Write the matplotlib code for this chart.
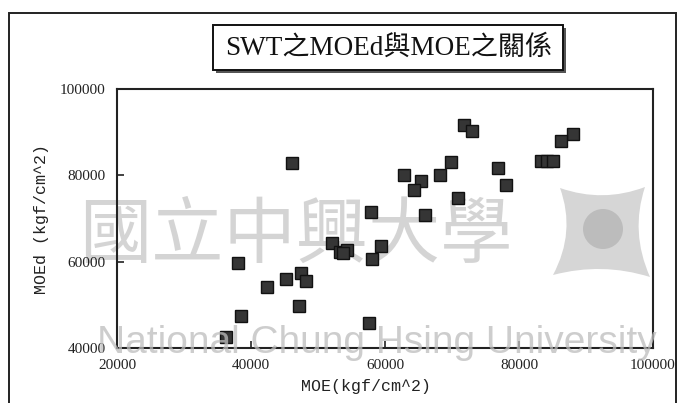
# -*- coding: utf-8 -*-
import matplotlib
matplotlib.use('Agg')
from matplotlib import pyplot as plt
from matplotlib.patches import Rectangle, Ellipse, PathPatch
from matplotlib.path import Path

# datos (MOE, MOEd) en kgf/cm^2
moe = [46100, 57900, 52100, 53300, 54300, 53700, 59400, 58100, 38100,
       45200, 42400, 47500, 48200, 47200, 38500, 57600, 36300, 71800,
       73000, 69900, 68200, 62800, 65400, 64300, 76900, 78100, 70900,
       66000, 88100, 86300, 83300, 84200, 85100]
moed = [82800, 71400, 64400, 62300, 62800, 62100, 63700, 60700, 59800,
        56000, 54200, 57400, 55600, 49800, 47400, 45800, 42600, 91600,
        90200, 83000, 80000, 80000, 78600, 76500, 81600, 77700, 74700,
        70700, 89500, 87900, 83300, 83300, 83300]

x_ticks = [20000, 40000, 60000, 80000, 100000]
y_ticks = [40000, 60000, 80000, 100000]

titulo = 'SWT之MOEd與MOE之關係'
x_label = 'MOE(kgf/cm^2)'
y_label = 'MOEd (kgf/cm^2)'
marca_cn = '國立中興大學'
marca_en = 'National Chung Hsing University'

W, H = 678, 403
serif = ['Liberation Serif', 'Noto Sans CJK TC']

fig = plt.figure(figsize=(W / 100, H / 100), dpi=100)


def fx(px):
    return px / W


def fy(py):
    return 1 - py / H


# marco exterior
fig.patches.append(Rectangle((fx(9), -0.1), fx(676) - fx(9), fy(13) + 0.1,
                             transform=fig.transFigure, fill=False,
                             edgecolor='#222222', linewidth=1.4))

# cuadro del titulo con sombra
bx0, by0, bx1, by1 = 213, 25, 563, 70
fig.patches.append(Rectangle((fx(bx0 + 3), fy(by1 + 3)), fx(bx1) - fx(bx0), fy(by0) - fy(by1),
                             transform=fig.transFigure, facecolor='#555555',
                             edgecolor='none', hatch='....'))
fig.patches.append(Rectangle((fx(bx0), fy(by1)), fx(bx1) - fx(bx0), fy(by0) - fy(by1),
                             transform=fig.transFigure, facecolor='white',
                             edgecolor='#111111', linewidth=1.4))
fig.text(fx(389), fy(48), titulo, ha='center', va='center', fontsize=19.5,
         family=serif, color='#111111')

ax = fig.add_axes([fx(117), fy(348), fx(653) - fx(117), fy(89) - fy(348)])
ax.set_facecolor('none')
ax.plot(moe, moed, linestyle='none', marker='s', markersize=8.5,
        markerfacecolor='#353535', markeredgecolor='#111111',
        markeredgewidth=1.0, zorder=3)

ax.set_xlim(20000, 100000)
ax.set_ylim(40000, 100000)
ax.set_xticks(x_ticks)
ax.set_yticks(y_ticks)
ax.tick_params(direction='in', length=5, width=1.2, labelsize=11, pad=8,
               colors='#222222')
for lab in ax.get_xticklabels() + ax.get_yticklabels():
    lab.set_family('Liberation Serif')
for s in ax.spines.values():
    s.set_linewidth(1.5)
    s.set_color('#222222')

fig.text(fx(366), fy(387), x_label, ha='center', va='center', fontsize=12,
         family='Liberation Mono', color='#222222')
fig.text(fx(42), fy(219), y_label, ha='center', va='center', fontsize=12,
         rotation=90, family='Liberation Mono', color='#222222')

# marca de agua
ax.text(fx(296), fy(236), marca_cn, transform=fig.transFigure, ha='center',
        va='center', fontsize=52, family='Noto Sans CJK TC', color='#cdcdcd',
        alpha=0.85, zorder=1, clip_on=False)
ax.text(fx(377), fy(343), marca_en, transform=fig.transFigure, ha='center',
        va='center', fontsize=28, family='Liberation Sans', color='#bdbdbd',
        alpha=0.75, zorder=4, clip_on=False)

# logo de la marca de agua
tl, tr, br, bl = (560, 188), (645, 187), (650, 277), (553, 275)
verts = [tl, (603, 203), tr, (630, 232), br, (602, 262), bl, (576, 232), tl]
verts = [(fx(a), fy(b)) for a, b in verts]
codes = [Path.MOVETO] + [Path.CURVE3] * 8
ax.add_patch(PathPatch(Path(verts, codes), transform=fig.transFigure,
                       facecolor='#d6d6d6', edgecolor='none', zorder=1,
                       clip_on=False))
ax.add_patch(Ellipse((fx(603), fy(229)), 40 / W, 40 / H, transform=fig.transFigure,
                     facecolor='#bcbcbc', edgecolor='none', zorder=1,
                     clip_on=False))

fig.savefig('out.png', dpi=100)
